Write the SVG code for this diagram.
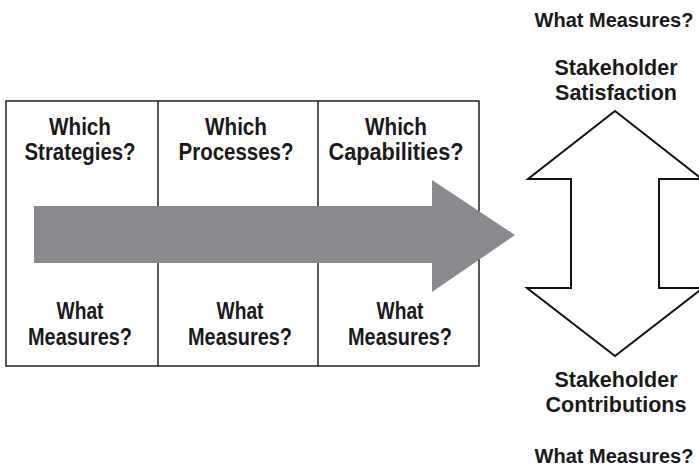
<svg xmlns="http://www.w3.org/2000/svg" width="699" height="466" viewBox="0 0 699 466">
<style>
.t{font-family:"Liberation Sans",Arial,sans-serif;font-weight:bold;fill:#1a1a1a;text-anchor:middle}
.cell{font-size:23px}
.side{font-size:21.5px}
.wm{font-size:20px}
.grid{fill:none;stroke:#222;stroke-width:1.5}
.dbl{fill:#fff;stroke:#111;stroke-width:2;stroke-linejoin:miter}
</style>
<rect width="699" height="466" fill="#fff"/>
<g id="table">
<rect class="grid" x="6" y="101" width="473" height="265"/>
<line class="grid" x1="158" y1="101" x2="158" y2="366"/>
<line class="grid" x1="318" y1="101" x2="318" y2="366"/>
</g>
<g id="cell-strategies">
<text class="t cell" x="80" y="135" textLength="62" lengthAdjust="spacingAndGlyphs">Which</text>
<text class="t cell" x="80" y="160" textLength="111" lengthAdjust="spacingAndGlyphs">Strategies?</text>
</g>
<g id="cell-processes">
<text class="t cell" x="236" y="135" textLength="62" lengthAdjust="spacingAndGlyphs">Which</text>
<text class="t cell" x="236" y="160" textLength="115" lengthAdjust="spacingAndGlyphs">Processes?</text>
</g>
<g id="cell-capabilities">
<text class="t cell" x="396" y="135" textLength="62" lengthAdjust="spacingAndGlyphs">Which</text>
<text class="t cell" x="396" y="160" textLength="135" lengthAdjust="spacingAndGlyphs">Capabilities?</text>
</g>
<g id="cell-measures-1">
<text class="t cell" x="80" y="319" textLength="47" lengthAdjust="spacingAndGlyphs">What</text>
<text class="t cell" x="80" y="345" textLength="104" lengthAdjust="spacingAndGlyphs">Measures?</text>
</g>
<g id="cell-measures-2">
<text class="t cell" x="240" y="319" textLength="47" lengthAdjust="spacingAndGlyphs">What</text>
<text class="t cell" x="240" y="345" textLength="104" lengthAdjust="spacingAndGlyphs">Measures?</text>
</g>
<g id="cell-measures-3">
<text class="t cell" x="400" y="319" textLength="47" lengthAdjust="spacingAndGlyphs">What</text>
<text class="t cell" x="400" y="345" textLength="104" lengthAdjust="spacingAndGlyphs">Measures?</text>
</g>
<g id="connectors">
<polygon id="flow-arrow" points="34,206 432,206 432,180 515,235 432,292 432,263 34,263" fill="#898a8d"/>
<polygon id="double-arrow" class="dbl" points="615,111 702,179 659,179 659,288 703,288 615,356 527,288 571,288 571,179 528,179"/>
</g>
<g id="stakeholder-satisfaction">
<text class="t wm" x="614" y="27">What Measures?</text>
<text class="t side" x="616" y="75">Stakeholder</text>
<text class="t side" x="616" y="100">Satisfaction</text>
</g>
<g id="stakeholder-contributions">
<text class="t side" x="616" y="387">Stakeholder</text>
<text class="t side" x="616" y="412">Contributions</text>
<text class="t wm" x="614" y="463">What Measures?</text>
</g>
</svg>
